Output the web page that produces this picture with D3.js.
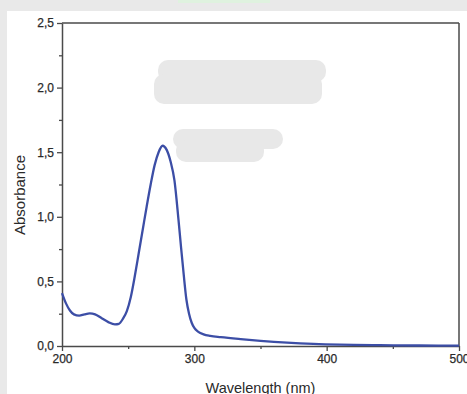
<!DOCTYPE html>
<html>
<head>
<meta charset="utf-8">
<script src="https://d3js.org/d3.v7.min.js"></script>
<style>
  body { margin: 0; background: #e9e9e9; }
  svg { display: block; }
</style>
</head>
<body>
<div id="chart"></div>
<script>
// UV-Vis spectrum
var wavelength = [200, 203, 206, 209, 213, 217, 221, 225, 230, 235, 240, 243, 246, 249,
  252, 255, 258, 261, 264, 267, 270, 273, 276, 279, 282, 285, 288, 290, 292, 294, 296,
  298, 300, 303, 307, 312, 320, 335, 350, 370, 390, 410, 440, 470, 500];
var absorbance = [0.41, 0.33, 0.275, 0.245, 0.235, 0.245, 0.252, 0.245, 0.215, 0.185,
  0.168, 0.172, 0.21, 0.27, 0.38, 0.54, 0.72, 0.90, 1.08, 1.25, 1.40, 1.50, 1.55, 1.52,
  1.43, 1.28, 0.98, 0.76, 0.55, 0.36, 0.25, 0.18, 0.14, 0.11, 0.09, 0.078, 0.068, 0.053,
  0.04, 0.026, 0.016, 0.01, 0.006, 0.004, 0.003];

var xTicks = [200, 300, 400, 500];
var xMinor = [250, 350, 450];
var yTicks = [0, 0.5, 1.0, 1.5, 2.0, 2.5];
var yMinor = [0.25, 0.75, 1.25, 1.75, 2.25];

var W = 467, H = 394;
var svg = d3.select("#chart").append("svg")
  .attr("width", W)
  .attr("height", H);

// white panel
svg.append("rect")
  .attr("x", 7).attr("y", 11)
  .attr("width", W - 7).attr("height", H - 11)
  .attr("fill", "#ffffff");

// faint green strip at top edge
svg.append("rect")
  .attr("x", 178).attr("y", 0)
  .attr("width", 92).attr("height", 3)
  .attr("fill", "#dff2df");

var x = d3.scaleLinear().domain([200, 500]).range([62, 459]);
var y = d3.scaleLinear().domain([0, 2.5]).range([346, 23]);

var fmt = function(d) { return d3.format(".1f")(d).replace(".", ","); };
var axisColor = "#4a4a4a";

// frame top + right
svg.append("line")
  .attr("x1", x(200)).attr("x2", x(500))
  .attr("y1", y(2.5)).attr("y2", y(2.5))
  .attr("stroke", axisColor).attr("stroke-width", 1.5);
svg.append("line")
  .attr("x1", x(500)).attr("x2", x(500))
  .attr("y1", y(2.5)).attr("y2", y(0))
  .attr("stroke", axisColor).attr("stroke-width", 1.5);

// minor ticks
svg.append("g")
  .attr("transform", "translate(" + x(200) + ",0)")
  .call(d3.axisLeft(y).tickValues(yMinor).tickSize(3).tickFormat(""))
  .call(function(g) { g.select(".domain").remove(); });
svg.append("g")
  .attr("transform", "translate(0," + y(0) + ")")
  .call(d3.axisBottom(x).tickValues(xMinor).tickSize(3).tickFormat(""))
  .call(function(g) { g.select(".domain").remove(); });

// main axes
var yAxis = svg.append("g")
  .attr("transform", "translate(" + x(200) + ",0)")
  .call(d3.axisLeft(y).tickValues(yTicks).tickSize(5).tickSizeOuter(0).tickPadding(3).tickFormat(fmt));
var xAxis = svg.append("g")
  .attr("transform", "translate(0," + y(0) + ")")
  .call(d3.axisBottom(x).tickValues(xTicks).tickSize(5).tickSizeOuter(0).tickPadding(3));

svg.selectAll(".tick line").attr("stroke", axisColor).attr("stroke-width", 1.3);
svg.selectAll(".domain").attr("stroke", axisColor).attr("stroke-width", 1.5);
svg.selectAll(".tick text")
  .attr("fill", "#2a2a2a")
  .attr("stroke", "#2a2a2a")
  .attr("stroke-width", 0.25)
  .style("font-family", "Liberation Sans, Arial, sans-serif")
  .style("font-size", "12px");

// redaction blobs
var blobs = [
  {x: 158, y: 60, w: 168, h: 22},
  {x: 154, y: 74, w: 168, h: 30},
  {x: 173, y: 129, w: 110, h: 20},
  {x: 176, y: 140, w: 88, h: 22}
];
svg.selectAll("rect.blob")
  .data(blobs)
  .enter().append("rect")
  .attr("class", "blob")
  .attr("x", function(d) { return d.x; })
  .attr("y", function(d) { return d.y; })
  .attr("width", function(d) { return d.w; })
  .attr("height", function(d) { return d.h; })
  .attr("rx", 10)
  .attr("fill", "#e8e8e8");

// spectrum
var pts = wavelength.map(function(w, i) { return [w, absorbance[i]]; });
var line = d3.line()
  .x(function(d) { return x(d[0]); })
  .y(function(d) { return y(d[1]); })
  .curve(d3.curveMonotoneX);

svg.append("path")
  .datum(pts)
  .attr("d", line)
  .attr("fill", "none")
  .attr("stroke", "#3c4ea6")
  .attr("stroke-width", 2.3)
  .attr("stroke-linejoin", "round");

// axis titles
svg.append("text")
  .attr("transform", "translate(25," + 195 + ") rotate(-90)")
  .attr("text-anchor", "middle")
  .attr("fill", "#2a2a2a")
  .style("font-family", "Liberation Sans, Arial, sans-serif")
  .style("font-size", "15px")
  .text("Absorbance");

svg.append("text")
  .attr("x", (x(200) + x(500)) / 2)
  .attr("y", 393)
  .attr("text-anchor", "middle")
  .attr("fill", "#2a2a2a")
  .style("font-family", "Liberation Sans, Arial, sans-serif")
  .style("font-size", "14.5px")
  .text("Wavelength (nm)");
</script>
</body>
</html>
